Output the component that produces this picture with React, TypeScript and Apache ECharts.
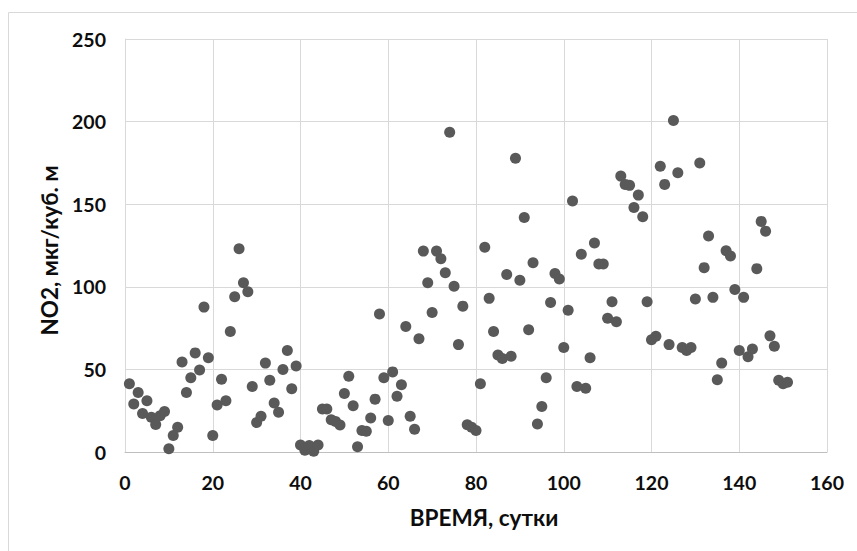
import React, { useEffect, useRef } from "react";
import * as echarts from "echarts";

const days = [
  1, 2, 3, 4, 5, 6, 7, 8, 9, 10, 11, 12, 13, 14, 15, 16, 17, 18, 19, 20,
  21, 22, 23, 24, 25, 26, 27, 28, 29, 30, 31, 32, 33, 34, 35, 36, 37, 38, 39, 40,
  41, 42, 43, 44, 45, 46, 47, 48, 49, 50, 51, 52, 53, 54, 55, 56, 57, 58, 59, 60,
  61, 62, 63, 64, 65, 66, 67, 68, 69, 70, 71, 72, 73, 74, 75, 76, 77, 78, 79, 80,
  81, 82, 83, 84, 85, 86, 87, 88, 89, 90, 91, 92, 93, 94, 95, 96, 97, 98, 99, 100,
  101, 102, 103, 104, 105, 106, 107, 108, 109, 110, 111, 112, 113, 114, 115, 116, 117, 118, 119, 120,
  121, 122, 123, 124, 125, 126, 127, 128, 129, 130, 131, 132, 133, 134, 135, 136, 137, 138, 139, 140,
  141, 142, 143, 144, 145, 146, 147, 148, 149, 150, 151,
];

const no2 = [
  41.3, 29, 36, 23.3, 31, 21, 16.7, 22, 24.5, 2,
  10, 15, 54.5, 36, 45, 60, 49.6, 87.7, 57, 10,
  28.4, 44, 31, 73, 94, 123, 102.5, 97, 39.6, 17.8,
  21.6, 53.8, 43.4, 29.7, 24, 50, 61.4, 38.3, 52, 4.2,
  1, 4, 0.4, 4.2, 26, 26, 19.5, 18.4, 16.3, 35.4,
  45.8, 28, 3.2, 13, 12.5, 20.6, 32, 83.5, 45, 19,
  48.5, 33.7, 40.7, 76, 21.6, 13.8, 68.6, 121.6, 102.5, 84.5,
  121.6, 117, 108.5, 193.6, 100.4, 65, 88.3, 16.5, 15, 13,
  41.3, 124, 93, 73, 58.7, 56.6, 107.4, 58, 177.8, 104,
  142, 74, 114.6, 17, 27.5, 45, 90.5, 108, 104.7, 63.3,
  85.8, 152, 39.6, 119.7, 38.6, 57, 126.5, 113.8, 113.8, 81,
  91, 78.8, 167, 162, 161.4, 148, 155.5, 142.4, 91, 68,
  70, 173, 162, 65, 200.6, 169, 63.3, 61.4, 63.3, 92.6,
  175, 111.6, 130.7, 93.6, 43.8, 53.8, 121.8, 118.6, 98.3, 61.4,
  93.6, 57.6, 62.3, 111, 139.6, 133.7, 70.3, 64, 43.4, 41.3,
  42.2,
];

const xTitle = "ВРЕМЯ, сутки";
const yTitle = "NO2, мкг/куб. м";

export default function App() {
  const ref = useRef<HTMLDivElement>(null);

  useEffect(() => {
    document.body.style.margin = "0";
    if (!ref.current) return;
    const chart = echarts.init(ref.current, null, { renderer: "svg" });
    const font = "Lato, 'Open Sans', sans-serif";
    const labelStyle = {
      color: "#0d0d0d",
      fontFamily: font,
      fontWeight: "bold" as const,
      fontSize: 19.5,
    };
    const titleStyle = { ...labelStyle, fontSize: 22.5 };
    chart.setOption({
      animation: false,
      backgroundColor: "#fff",
      graphic: [
        {
          type: "rect",
          shape: { x: 8.5, y: 12.5, width: 900, height: 600 },
          style: { fill: "none", stroke: "#d9d9d9", lineWidth: 1 },
          z: -1,
          silent: true,
        },
      ],
      grid: { left: 125, top: 39, right: 30, bottom: 99, containLabel: false },
      xAxis: {
        type: "value",
        min: 0,
        max: 160,
        interval: 20,
        name: xTitle,
        nameLocation: "middle",
        nameGap: 54,
        nameTextStyle: { ...titleStyle, padding: [0, 0, 0, 16] },
        axisLine: { show: true, lineStyle: { color: "#bfbfbf", width: 1 } },
        axisTick: { show: false },
        axisLabel: { ...labelStyle, margin: 20 },
        splitLine: { show: true, lineStyle: { color: "#d9d9d9", width: 1 } },
      },
      yAxis: {
        type: "value",
        min: 0,
        max: 250,
        interval: 50,
        name: yTitle,
        nameLocation: "middle",
        nameGap: 56,
        nameTextStyle: { ...titleStyle, padding: [0, 10, 0, 0] },
        axisLine: { show: true, lineStyle: { color: "#d9d9d9", width: 1 } },
        axisTick: { show: false },
        axisLabel: { ...labelStyle, margin: 19 },
        splitLine: { show: true, lineStyle: { color: "#d9d9d9", width: 1 } },
      },
      series: [
        {
          type: "scatter",
          data: days.map((d, i) => [d, no2[i]]),
          symbol: "circle",
          symbolSize: 11,
          itemStyle: { color: "#595959", opacity: 1 },
        },
      ],
    });
    return () => chart.dispose();
  }, []);

  return (
    <div
      ref={ref}
      style={{ position: "absolute", left: 0, top: 0, width: 857, height: 551 }}
    />
  );
}
